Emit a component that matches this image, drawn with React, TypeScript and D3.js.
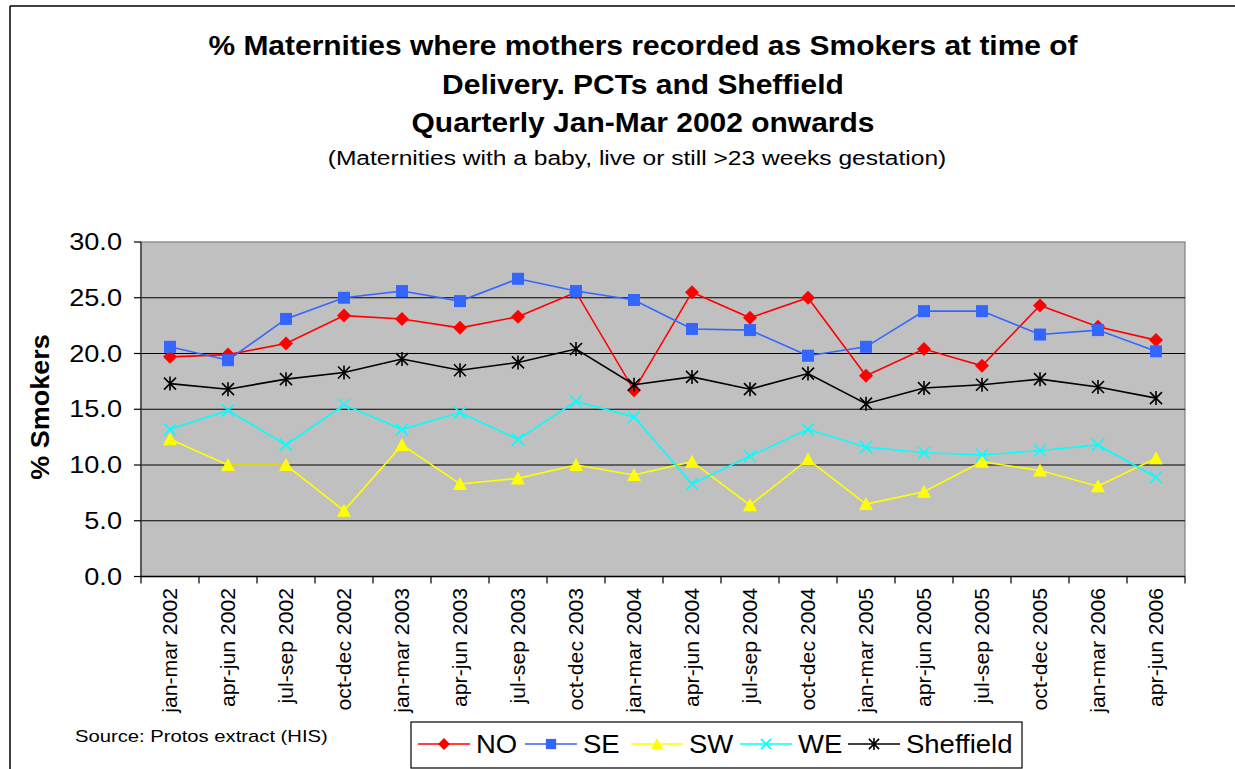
import React from "react";
import * as d3 from "d3";

const categories = [
  "jan-mar 2002", "apr-jun 2002", "jul-sep 2002", "oct-dec 2002",
  "jan-mar 2003", "apr-jun 2003", "jul-sep 2003", "oct-dec 2003",
  "jan-mar 2004", "apr-jun 2004", "jul-sep 2004", "oct-dec 2004",
  "jan-mar 2005", "apr-jun 2005", "jul-sep 2005", "oct-dec 2005",
  "jan-mar 2006", "apr-jun 2006",
];

const noValues = [19.7, 19.9, 20.9, 23.4, 23.1, 22.3, 23.3, 25.5, 16.7, 25.5, 23.2, 25.0, 18.0, 20.4, 18.9, 24.3, 22.4, 21.2];
const seValues = [20.6, 19.4, 23.1, 25.0, 25.6, 24.7, 26.7, 25.6, 24.8, 22.2, 22.1, 19.8, 20.6, 23.8, 23.8, 21.7, 22.1, 20.2];
const swValues = [12.3, 10.0, 10.0, 5.9, 11.8, 8.3, 8.8, 10.0, 9.1, 10.3, 6.4, 10.5, 6.5, 7.6, 10.3, 9.5, 8.1, 10.6];
const weValues = [13.2, 14.9, 11.8, 15.4, 13.2, 14.7, 12.3, 15.7, 14.3, 8.3, 10.8, 13.2, 11.6, 11.1, 10.9, 11.3, 11.8, 8.9];
const sheffieldValues = [17.3, 16.8, 17.7, 18.3, 19.5, 18.5, 19.2, 20.4, 17.2, 17.9, 16.8, 18.2, 15.5, 16.9, 17.2, 17.7, 17.0, 16.0];

const yTicks = [0, 5, 10, 15, 20, 25, 30];

const seriesList = [
  { name: "NO", values: noValues, color: "#ff0000", marker: "diamond" },
  { name: "SE", values: seValues, color: "#3366ff", marker: "square" },
  { name: "SW", values: swValues, color: "#ffff00", marker: "triangle" },
  { name: "WE", values: weValues, color: "#00ffff", marker: "x" },
  { name: "Sheffield", values: sheffieldValues, color: "#000000", marker: "star" },
];

const plotLeft = 141;
const plotRight = 1185;
const plotTop = 242;
const plotBottom = 576.5;

function Marker({ type, x, y, color, scale = 1 }: { type: string; x: number; y: number; color: string; scale?: number }) {
  const r = 7 * scale;
  if (type === "diamond") {
    return <path d={`M${x},${y - r}L${x + r},${y}L${x},${y + r}L${x - r},${y}Z`} fill={color} />;
  }
  if (type === "square") {
    const s = 6 * scale;
    return <rect x={x - s} y={y - s} width={s * 2} height={s * 2} fill={color} />;
  }
  if (type === "triangle") {
    return <path d={`M${x},${y - r}L${x + r},${y + 6 * scale}L${x - r},${y + 6 * scale}Z`} fill={color} />;
  }
  if (type === "x") {
    const s = 6 * scale;
    return (
      <path d={`M${x - s},${y - s}L${x + s},${y + s}M${x - s},${y + s}L${x + s},${y - s}`} stroke={color} strokeWidth={1.6} />
    );
  }
  const s = 6 * scale;
  return (
    <path
      d={`M${x - s},${y - s}L${x + s},${y + s}M${x - s},${y + s}L${x + s},${y - s}M${x},${y - s - 1}L${x},${y + s + 1}`}
      stroke={color}
      strokeWidth={1.6}
    />
  );
}

export default function App() {
  const x = d3.scaleBand<string>().domain(categories).range([plotLeft, plotRight]);
  const y = d3.scaleLinear().domain([0, 30]).range([plotBottom, plotTop]);
  const cx = (c: string) => (x(c) as number) + x.bandwidth() / 2;

  const line = d3
    .line<number>()
    .x((d, i) => cx(categories[i]))
    .y((d) => y(d));

  const font = "Liberation Sans, Arial, sans-serif";
  const legendX = [418, 525, 631, 740, 848];

  return (
    <svg
      width={1235}
      height={769}
      style={{ position: "absolute", left: 0, top: 0, display: "block", background: "#fff" }}
      fontFamily={font}
    >
      {/* outer frame (only left and top visible) */}
      <line x1={10} y1={6} x2={10} y2={769} stroke="#000" strokeWidth={1.5} />
      <line x1={10} y1={6} x2={1235} y2={6} stroke="#000" strokeWidth={1.5} />

      {/* titles */}
      <g textAnchor="middle" fontWeight="bold" fontSize={27}>
        <text transform="translate(643,55) scale(1.11,1)">% Maternities where mothers recorded as Smokers at time of</text>
        <text transform="translate(643,94) scale(1.11,1)">Delivery. PCTs and Sheffield</text>
        <text transform="translate(643,132) scale(1.11,1)">Quarterly Jan-Mar 2002 onwards</text>
      </g>
      <text transform="translate(637,165) scale(1.17,1)" textAnchor="middle" fontSize={21}>
        (Maternities with a baby, live or still &gt;23 weeks gestation)
      </text>

      {/* plot area */}
      <rect x={plotLeft} y={plotTop} width={plotRight - plotLeft} height={plotBottom - plotTop} fill="#c0c0c0" stroke="#808080" strokeWidth={1.2} />
      {yTicks.filter((t) => t > 0 && t < 30).map((t) => (
        <line key={t} x1={plotLeft} x2={plotRight} y1={y(t)} y2={y(t)} stroke="#000" strokeWidth={1.2} />
      ))}

      {/* y axis */}
      <line x1={plotLeft} x2={plotLeft} y1={plotTop} y2={plotBottom} stroke="#404040" strokeWidth={1.5} />
      {yTicks.map((t) => (
        <g key={t}>
          <line x1={plotLeft - 7} x2={plotLeft} y1={y(t)} y2={y(t)} stroke="#000" strokeWidth={1.2} />
          <text transform={`translate(122,${y(t) + 8}) scale(1.18,1)`} textAnchor="end" fontSize={23}>
            {t.toFixed(1)}
          </text>
        </g>
      ))}
      <text transform="translate(49,407) rotate(-90) scale(1.08,1)" textAnchor="middle" fontWeight="bold" fontSize={25}>
        % Smokers
      </text>

      {/* x axis */}
      <line x1={plotLeft} x2={plotRight} y1={plotBottom} y2={plotBottom} stroke="#000" strokeWidth={1.5} />
      {categories.map((c) => (
        <line key={c} x1={x(c) as number} x2={x(c) as number} y1={plotBottom} y2={plotBottom + 7} stroke="#000" strokeWidth={1.2} />
      ))}
      <line x1={plotRight} x2={plotRight} y1={plotBottom} y2={plotBottom + 7} stroke="#000" strokeWidth={1.2} />
      {categories.map((c) => (
        <text key={c} transform={`translate(${cx(c) + 7},588) rotate(-90) scale(1.06,1)`} textAnchor="end" fontSize={20}>
          {c}
        </text>
      ))}

      {/* series */}
      {seriesList.map((s) => (
        <g key={s.name}>
          <path d={line(s.values) as string} fill="none" stroke={s.color} strokeWidth={1.6} />
          {s.values.map((v, i) => (
            <Marker key={i} type={s.marker} x={cx(categories[i])} y={y(v)} color={s.color} />
          ))}
        </g>
      ))}

      {/* source */}
      <text transform="translate(75,742) scale(1.19,1)" fontSize={17}>
        Source: Protos extract (HIS)
      </text>

      {/* legend */}
      <rect x={411} y={722} width={611} height={46} fill="#fff" stroke="#000" strokeWidth={1.2} />
      {seriesList.map((s, i) => (
        <g key={s.name}>
          <line x1={legendX[i]} x2={legendX[i] + 52} y1={744} y2={744} stroke={s.color} strokeWidth={1.6} />
          <Marker type={s.marker} x={legendX[i] + 26} y={744} color={s.color} scale={0.85} />
          <text transform={`translate(${legendX[i] + 58},753) scale(1.1,1)`} fontSize={25}>
            {s.name}
          </text>
        </g>
      ))}
    </svg>
  );
}
